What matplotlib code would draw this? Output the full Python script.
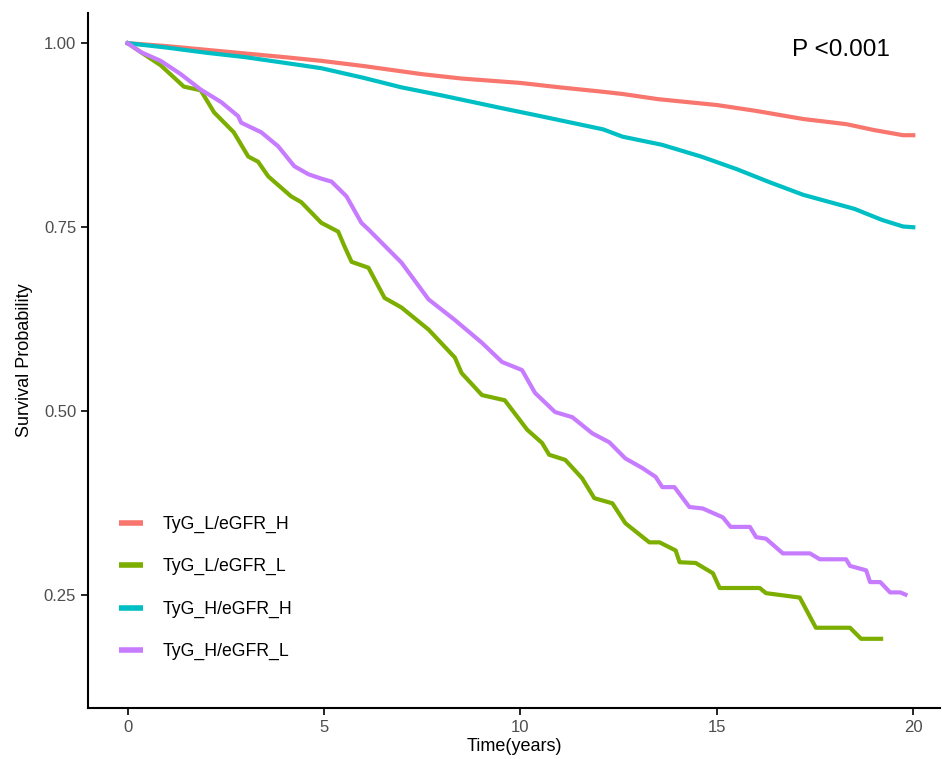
import numpy as np
import matplotlib
matplotlib.use('Agg')
import matplotlib.pyplot as plt

plt.rcParams['font.family'] = ['Liberation Sans', 'DejaVu Sans']

# survival curves (time in years, survival probability)
red_t = [0, 1.0, 2.0, 3.0, 4.0, 4.93, 6.0, 7.48, 8.5, 10.0, 11.0, 12.1, 12.6, 13.5, 15.0, 16.0, 17.2, 18.3, 19.0, 19.74, 20.0]
red_s = [1.0, 0.996, 0.991, 0.986, 0.981, 0.976, 0.969, 0.958, 0.952, 0.946, 0.940, 0.934, 0.931, 0.924, 0.916, 0.908, 0.897, 0.890, 0.882, 0.875, 0.875]

cyan_t = [0, 1.0, 2.0, 3.0, 4.42, 4.93, 6.0, 6.97, 8.0, 9.5, 10.5, 12.1, 12.6, 13.6, 14.6, 15.5, 16.35, 17.2, 18.5, 19.2, 19.74, 20.0]
cyan_s = [1.0, 0.994, 0.987, 0.981, 0.970, 0.966, 0.953, 0.940, 0.929, 0.912, 0.901, 0.883, 0.873, 0.862, 0.846, 0.829, 0.811, 0.794, 0.775, 0.760, 0.751, 0.750]

green_t = [0, 0.33, 0.84, 1.43, 1.86, 2.2, 2.7, 3.07, 3.32, 3.58, 4.16, 4.42, 4.93, 5.36, 5.52, 5.7,
           6.13, 6.54, 6.97, 7.66, 8.33, 8.5, 9.02, 9.6, 10.17, 10.55, 10.73, 11.14, 11.57, 11.88,
           12.34, 12.67, 13.28, 13.54, 13.95, 14.05, 14.46, 14.9, 15.07, 16.09, 16.25, 16.68, 17.11,
           17.52, 18.39, 18.67, 19.18]
green_s = [1.0, 0.988, 0.970, 0.941, 0.936, 0.906, 0.879, 0.846, 0.839, 0.819, 0.792, 0.784, 0.756, 0.744, 0.724, 0.703,
           0.695, 0.654, 0.641, 0.611, 0.573, 0.552, 0.522, 0.515, 0.475, 0.457, 0.441, 0.434, 0.409, 0.382,
           0.375, 0.348, 0.322, 0.322, 0.311, 0.295, 0.294, 0.280, 0.260, 0.260, 0.253, 0.250, 0.247,
           0.206, 0.206, 0.191, 0.191]

purple_t = [0, 0.33, 0.84, 1.35, 1.86, 2.38, 2.81, 2.89, 3.4, 3.83, 4.24, 4.6, 4.93, 5.19, 5.57, 5.95,
            6.13, 6.97, 7.66, 8.33, 9.02, 9.53, 10.04, 10.37, 10.88, 11.32, 11.83, 12.26, 12.67, 13.1,
            13.44, 13.61, 13.92, 14.3, 14.64, 15.15, 15.35, 15.84, 16.0, 16.25, 16.68, 17.37, 17.62,
            18.29, 18.39, 18.8, 18.9, 19.16, 19.41, 19.67, 19.8]
purple_s = [1.0, 0.988, 0.976, 0.958, 0.937, 0.920, 0.901, 0.892, 0.879, 0.860, 0.833, 0.822, 0.816, 0.812, 0.792, 0.756,
            0.747, 0.702, 0.652, 0.624, 0.593, 0.567, 0.556, 0.525, 0.499, 0.492, 0.470, 0.458, 0.436, 0.423,
            0.411, 0.397, 0.397, 0.370, 0.368, 0.356, 0.343, 0.343, 0.329, 0.327, 0.307, 0.307, 0.299,
            0.299, 0.290, 0.284, 0.268, 0.268, 0.254, 0.254, 0.251]

labels = ['TyG_L/eGFR_H', 'TyG_L/eGFR_L', 'TyG_H/eGFR_H', 'TyG_H/eGFR_L']
colors = ['#F8766D', '#7CAE00', '#00BFC4', '#C77CFF']

fig = plt.figure(figsize=(9.42, 7.59), dpi=100)
ax = fig.add_axes([88 / 942, 1 - 708 / 759, (940 - 88) / 942, (708 - 13) / 759])

series = [(red_t, red_s), (green_t, green_s), (cyan_t, cyan_s), (purple_t, purple_s)]
for (t, s), c, lab in zip(series, colors, labels):
    ax.plot(t, s, color=c, lw=3, label=lab, solid_joinstyle='round')

ax.set_xlim(-1.01, 20.68)
ax.set_ylim(0.097, 1.041)
ax.set_xticks([0, 5, 10, 15, 20])
ax.set_yticks([0.25, 0.50, 0.75, 1.00])
ax.set_yticklabels(['0.25', '0.50', '0.75', '1.00'])
ax.tick_params(length=5, width=1.2, colors='black', labelcolor='#4D4D4D', labelsize=12)

for side in ['top', 'right']:
    ax.spines[side].set_visible(False)
for side in ['left', 'bottom']:
    ax.spines[side].set_linewidth(1.5)

ax.set_xlabel('Time(years)', fontsize=13, labelpad=2)
ax.set_ylabel('Survival Probability', fontsize=13, labelpad=8)

ax.text(18.16, 0.991, 'P <0.001', fontsize=17.5, ha='center', va='center')

leg = ax.legend(loc='upper left', bbox_to_anchor=(15 / 852, 1 - (500 - 13) / 695),
                frameon=False, fontsize=12.7, handlelength=1.35, handletextpad=1.15,
                labelspacing=1.43)
for h in leg.legend_handles:
    h.set_linewidth(4)
    h.set_solid_capstyle('butt')

fig.savefig('out.png', dpi=100)
